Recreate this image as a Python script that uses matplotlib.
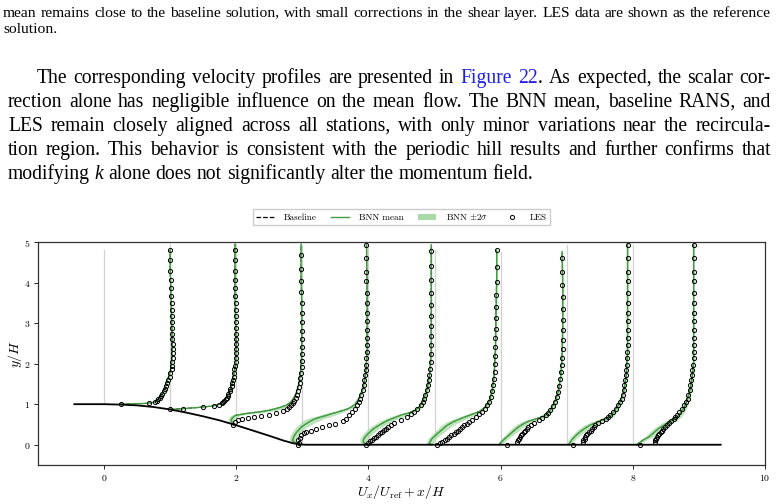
import matplotlib
matplotlib.use("Agg")
import matplotlib.pyplot as plt
from matplotlib.lines import Line2D
from matplotlib.patches import Patch
from matplotlib.transforms import IdentityTransform
from matplotlib.font_manager import FontProperties
import numpy as np

# ---------------- text content ----------------
TOP_LINES = [
    "mean remains close to the baseline solution, with small corrections in the shear layer. LES data are shown as the reference",
    "solution.",
]
PARA_LINES = [
    "The corresponding velocity profiles are presented in Figure 22. As expected, the scalar cor-",
    "rection alone has negligible influence on the mean flow. The BNN mean, baseline RANS, and",
    "LES remain closely aligned across all stations, with only minor variations near the recircula-",
    "tion region. This behavior is consistent with the periodic hill results and further confirms that",
    "modifying k alone does not significantly alter the momentum field.",
]

# ---------------- chart data ----------------
STATIONS = [0, 1, 2, 3, 4, 5, 6, 7, 8]
LEGEND_LABELS = ["Baseline", "BNN mean", r"BNN $\pm 2\sigma$", "LES"]
X_TICKS = [0, 2, 4, 6, 8, 10]
Y_TICKS = [0, 1, 2, 3, 4, 5]

WALL_X = [-0.45, 0.0, 0.25, 0.5, 0.75, 1.0, 1.25, 1.5, 1.75, 2.0, 2.25, 2.5, 2.7, 2.85, 2.95, 3.05, 9.33]
WALL_Y = [1.0, 1.0, 0.99, 0.97, 0.93, 0.87, 0.79, 0.70, 0.60, 0.48, 0.35, 0.22, 0.11, 0.04, 0.01, 0.0, 0.0]

# LES profiles (y, U)
LES_Y_0 = [1.00, 1.02, 1.05, 1.08, 1.12, 1.16, 1.21, 1.26, 1.32, 1.38, 1.45, 1.52, 1.60, 1.68, 1.77, 1.86, 1.95, 2.05, 2.15, 2.26, 2.37, 2.49, 2.61, 2.74, 2.88, 3.02, 3.17, 3.33, 3.50, 3.68, 3.87, 4.07, 4.28, 4.55, 4.81]
LES_U_0 = [0.26, 0.68, 0.77, 0.80, 0.82, 0.84, 0.86, 0.88, 0.90, 0.92, 0.94, 0.95, 0.97, 0.99, 1.00, 1.02, 1.03, 1.03, 1.04, 1.04, 1.04, 1.04, 1.03, 1.03, 1.03, 1.03, 1.02, 1.02, 1.02, 1.01, 1.01, 1.01, 1.00, 1.00, 1.00]
LES_Y_1 = [0.87, 0.89, 0.93, 0.96, 0.99, 1.02, 1.05, 1.08, 1.12, 1.16, 1.21, 1.26, 1.32, 1.38, 1.45, 1.52, 1.60, 1.68, 1.77, 1.86, 1.95, 2.05, 2.15, 2.26, 2.37, 2.49, 2.61, 2.74, 2.88, 3.02, 3.17, 3.33, 3.50, 3.68, 3.87, 4.07, 4.28, 4.55, 4.81]
LES_U_1 = [0.00, 0.19, 0.50, 0.67, 0.74, 0.78, 0.80, 0.82, 0.84, 0.86, 0.87, 0.88, 0.90, 0.91, 0.93, 0.94, 0.95, 0.96, 0.97, 0.97, 0.98, 0.99, 0.99, 1.00, 1.00, 1.00, 1.00, 0.99, 0.99, 0.99, 0.99, 0.99, 0.99, 0.98, 0.98, 0.98, 0.98, 0.98, 0.98]
LES_Y_2 = [0.48, 0.56, 0.60, 0.63, 0.65, 0.68, 0.71, 0.74, 0.78, 0.82, 0.87, 0.92, 0.97, 1.02, 1.08, 1.15, 1.23, 1.32, 1.42, 1.53, 1.65, 1.78, 1.92, 2.07, 2.23, 2.41, 2.60, 2.80, 3.02, 3.25, 3.50, 3.76, 4.04, 4.33, 4.68]
LES_U_2 = [-0.05, -0.02, 0.02, 0.09, 0.17, 0.27, 0.38, 0.49, 0.60, 0.70, 0.76, 0.80, 0.83, 0.86, 0.88, 0.90, 0.92, 0.94, 0.95, 0.96, 0.97, 0.98, 0.99, 0.99, 0.99, 0.99, 0.99, 0.99, 0.99, 0.99, 0.99, 0.98, 0.98, 0.98, 0.98]
LES_Y_3 = [0.00, 0.05, 0.11, 0.17, 0.23, 0.28, 0.31, 0.35, 0.40, 0.44, 0.48, 0.52, 0.58, 0.64, 0.73, 0.81, 0.89, 0.97, 1.06, 1.14, 1.22, 1.35, 1.47, 1.59, 1.72, 1.84, 1.96, 2.13, 2.29, 2.46, 2.62, 2.83, 3.04, 3.24, 3.49, 3.74, 4.03, 4.27, 4.60, 4.92]
LES_U_3 = [-0.06, -0.05, -0.06, -0.04, -0.02, 0.02, 0.05, 0.13, 0.20, 0.30, 0.40, 0.50, 0.61, 0.66, 0.71, 0.75, 0.79, 0.82, 0.85, 0.87, 0.89, 0.92, 0.93, 0.94, 0.95, 0.96, 0.97, 0.97, 0.98, 0.98, 0.98, 0.98, 0.98, 0.98, 0.98, 0.98, 0.97, 0.97, 0.97, 0.97]
LES_Y_4 = [0.00, 0.04, 0.08, 0.12, 0.16, 0.20, 0.24, 0.28, 0.32, 0.36, 0.40, 0.44, 0.49, 0.54, 0.60, 0.68, 0.75, 0.81, 0.89, 0.97, 1.06, 1.14, 1.22, 1.35, 1.47, 1.59, 1.72, 1.88, 2.05, 2.25, 2.46, 2.68, 2.92, 3.18, 3.45, 3.75, 4.07, 4.40, 4.77]
LES_U_4 = [-0.04, -0.01, 0.02, 0.05, 0.08, 0.11, 0.14, 0.17, 0.20, 0.23, 0.26, 0.30, 0.34, 0.39, 0.49, 0.59, 0.65, 0.69, 0.74, 0.79, 0.82, 0.84, 0.86, 0.88, 0.90, 0.91, 0.92, 0.93, 0.94, 0.95, 0.95, 0.95, 0.95, 0.95, 0.95, 0.95, 0.95, 0.95, 0.95]
LES_Y_5 = [0.00, 0.04, 0.07, 0.11, 0.15, 0.19, 0.23, 0.27, 0.31, 0.35, 0.40, 0.44, 0.48, 0.52, 0.56, 0.62, 0.68, 0.75, 0.81, 0.89, 0.97, 1.06, 1.18, 1.32, 1.47, 1.63, 1.80, 1.98, 2.18, 2.40, 2.62, 2.86, 3.12, 3.40, 3.70, 4.02, 4.38, 4.81]
LES_U_5 = [0.04, 0.09, 0.12, 0.16, 0.19, 0.22, 0.25, 0.29, 0.32, 0.35, 0.39, 0.42, 0.45, 0.49, 0.52, 0.57, 0.62, 0.67, 0.72, 0.76, 0.80, 0.82, 0.85, 0.87, 0.89, 0.90, 0.91, 0.91, 0.92, 0.92, 0.92, 0.93, 0.93, 0.93, 0.93, 0.94, 0.94, 0.94]
LES_Y_6 = [0.00, 0.07, 0.11, 0.15, 0.19, 0.23, 0.27, 0.31, 0.35, 0.40, 0.44, 0.49, 0.54, 0.60, 0.66, 0.73, 0.79, 0.85, 0.95, 1.06, 1.18, 1.30, 1.46, 1.63, 1.80, 1.96, 2.15, 2.36, 2.58, 2.82, 3.08, 3.35, 3.64, 3.95, 4.27, 4.60]
LES_U_6 = [0.10, 0.25, 0.27, 0.28, 0.30, 0.31, 0.33, 0.35, 0.37, 0.40, 0.42, 0.46, 0.50, 0.58, 0.63, 0.68, 0.72, 0.75, 0.79, 0.82, 0.85, 0.87, 0.89, 0.90, 0.92, 0.93, 0.93, 0.94, 0.94, 0.94, 0.94, 0.94, 0.94, 0.93, 0.93, 0.93]
LES_Y_7 = [0.00, 0.07, 0.11, 0.15, 0.19, 0.23, 0.27, 0.31, 0.35, 0.40, 0.44, 0.48, 0.53, 0.58, 0.64, 0.68, 0.73, 0.81, 0.89, 0.97, 1.06, 1.14, 1.22, 1.35, 1.47, 1.59, 1.72, 1.84, 1.96, 2.13, 2.29, 2.46, 2.62, 2.83, 3.04, 3.24, 3.49, 3.74, 4.03, 4.27, 4.60, 4.92]
LES_U_7 = [0.10, 0.24, 0.25, 0.27, 0.28, 0.29, 0.31, 0.33, 0.36, 0.38, 0.41, 0.43, 0.48, 0.53, 0.59, 0.63, 0.66, 0.70, 0.74, 0.78, 0.81, 0.83, 0.85, 0.86, 0.87, 0.88, 0.89, 0.90, 0.91, 0.91, 0.91, 0.92, 0.92, 0.92, 0.92, 0.92, 0.92, 0.92, 0.92, 0.92, 0.92, 0.92]
LES_Y_8 = [0.00, 0.07, 0.11, 0.15, 0.19, 0.23, 0.27, 0.31, 0.35, 0.40, 0.44, 0.48, 0.53, 0.58, 0.64, 0.68, 0.73, 0.81, 0.89, 0.97, 1.06, 1.14, 1.22, 1.35, 1.47, 1.59, 1.72, 1.84, 1.96, 2.13, 2.29, 2.46, 2.62, 2.83, 3.04, 3.24, 3.49, 3.74, 4.03, 4.27, 4.60, 4.92]
LES_U_8 = [0.11, 0.33, 0.34, 0.35, 0.36, 0.38, 0.40, 0.42, 0.44, 0.46, 0.48, 0.51, 0.54, 0.58, 0.62, 0.64, 0.67, 0.70, 0.74, 0.78, 0.81, 0.83, 0.84, 0.86, 0.87, 0.88, 0.89, 0.90, 0.91, 0.92, 0.92, 0.92, 0.92, 0.92, 0.92, 0.92, 0.92, 0.92, 0.92, 0.92, 0.92, 0.92]

# BNN mean profiles (y, U) and 2-sigma half width
BNN_Y_0 = [1.00, 1.02, 1.05, 1.10, 1.20, 1.30, 1.45, 1.60, 1.80, 2.00, 2.30, 2.70, 3.20, 3.80, 4.30, 4.80]
BNN_U_0 = [0.25, 0.66, 0.76, 0.81, 0.86, 0.89, 0.93, 0.96, 1.00, 1.02, 1.03, 1.03, 1.02, 1.01, 1.00, 1.00]
BNN_S_0 = [0.01, 0.02, 0.02, 0.02, 0.015, 0.01, 0.01, 0.01, 0.01, 0.01, 0.01, 0.01, 0.01, 0.01, 0.01, 0.01]
BNN_Y_1 = [0.87, 0.89, 0.93, 0.96, 1.00, 1.06, 1.20, 1.40, 1.70, 2.00, 2.40, 3.00, 3.60, 4.20, 4.95]
BNN_U_1 = [0.00, 0.20, 0.50, 0.66, 0.74, 0.80, 0.87, 0.92, 0.96, 0.99, 1.00, 0.99, 0.98, 0.98, 0.98]
BNN_S_1 = [0.01, 0.02, 0.02, 0.02, 0.02, 0.02, 0.015, 0.01, 0.01, 0.01, 0.01, 0.01, 0.01, 0.01, 0.01]
BNN_Y_2 = [0.48, 0.60, 0.66, 0.72, 0.75, 0.77, 0.81, 0.85, 0.89, 0.93, 0.97, 1.02, 1.10, 1.25, 1.45, 1.75, 2.20, 2.80, 3.50, 4.20, 4.95]
BNN_U_2 = [-0.04, -0.08, -0.06, -0.02, 0.08, 0.15, 0.35, 0.50, 0.60, 0.68, 0.75, 0.80, 0.85, 0.90, 0.94, 0.97, 0.99, 0.99, 0.99, 0.98, 0.98]
BNN_S_2 = [0.03, 0.05, 0.06, 0.07, 0.09, 0.11, 0.13, 0.12, 0.10, 0.08, 0.06, 0.04, 0.03, 0.02, 0.01, 0.01, 0.01, 0.01, 0.01, 0.01, 0.01]
BNN_Y_3 = [0.00, 0.10, 0.20, 0.30, 0.43, 0.52, 0.58, 0.63, 0.68, 0.72, 0.76, 0.80, 0.84, 0.88, 0.94, 1.00, 1.15, 1.40, 1.80, 2.30, 3.00, 3.80, 4.93]
BNN_U_3 = [-0.05, -0.15, -0.13, -0.09, -0.02, 0.06, 0.12, 0.18, 0.27, 0.36, 0.43, 0.52, 0.60, 0.68, 0.75, 0.80, 0.86, 0.92, 0.96, 0.98, 0.98, 0.98, 0.97]
BNN_S_3 = [0.03, 0.05, 0.06, 0.07, 0.08, 0.10, 0.12, 0.13, 0.13, 0.12, 0.11, 0.09, 0.07, 0.05, 0.04, 0.03, 0.02, 0.015, 0.01, 0.01, 0.01, 0.01, 0.01]
BNN_Y_4 = [0.00, 0.08, 0.15, 0.25, 0.40, 0.50, 0.60, 0.67, 0.73, 0.79, 0.85, 0.95, 1.10, 1.40, 1.80, 2.30, 3.00, 4.00, 4.93]
BNN_U_4 = [-0.05, -0.08, -0.07, -0.02, 0.08, 0.18, 0.29, 0.40, 0.49, 0.62, 0.71, 0.78, 0.83, 0.89, 0.93, 0.95, 0.95, 0.95, 0.95]
BNN_S_4 = [0.03, 0.05, 0.06, 0.07, 0.08, 0.09, 0.10, 0.10, 0.09, 0.07, 0.05, 0.04, 0.03, 0.02, 0.01, 0.01, 0.01, 0.01, 0.01]
BNN_Y_5 = [0.00, 0.03, 0.15, 0.27, 0.38, 0.48, 0.57, 0.64, 0.71, 0.77, 0.83, 0.92, 1.05, 1.30, 1.70, 2.30, 3.20, 4.10, 4.80]
BNN_U_5 = [-0.05, -0.08, -0.04, 0.04, 0.12, 0.19, 0.29, 0.39, 0.50, 0.60, 0.69, 0.76, 0.82, 0.87, 0.90, 0.92, 0.93, 0.94, 0.94]
BNN_S_5 = [0.03, 0.05, 0.06, 0.07, 0.08, 0.09, 0.10, 0.10, 0.09, 0.07, 0.05, 0.04, 0.03, 0.02, 0.01, 0.01, 0.01, 0.01, 0.01]
BNN_Y_6 = [0.00, 0.05, 0.13, 0.23, 0.33, 0.44, 0.51, 0.58, 0.66, 0.73, 0.85, 1.06, 1.30, 1.70, 2.20, 3.00, 3.80, 4.76]
BNN_U_6 = [-0.02, 0.00, 0.05, 0.12, 0.19, 0.27, 0.34, 0.42, 0.58, 0.68, 0.75, 0.82, 0.87, 0.91, 0.93, 0.94, 0.94, 0.93]
BNN_S_6 = [0.03, 0.04, 0.05, 0.06, 0.07, 0.08, 0.09, 0.09, 0.07, 0.05, 0.04, 0.03, 0.02, 0.01, 0.01, 0.01, 0.01, 0.01]
BNN_Y_7 = [0.00, 0.03, 0.13, 0.23, 0.33, 0.41, 0.48, 0.54, 0.60, 0.64, 0.70, 0.85, 1.06, 1.30, 1.70, 2.30, 3.20, 4.93]
BNN_U_7 = [0.03, 0.04, 0.08, 0.14, 0.21, 0.28, 0.35, 0.43, 0.52, 0.58, 0.66, 0.73, 0.81, 0.86, 0.90, 0.92, 0.92, 0.92]
BNN_S_7 = [0.03, 0.04, 0.05, 0.06, 0.07, 0.08, 0.09, 0.09, 0.08, 0.07, 0.05, 0.04, 0.03, 0.02, 0.01, 0.01, 0.01, 0.01]
BNN_Y_8 = [0.00, 0.05, 0.12, 0.19, 0.30, 0.40, 0.48, 0.56, 0.62, 0.68, 0.77, 0.93, 1.14, 1.39, 1.72, 2.05, 3.00, 4.00, 4.93]
BNN_U_8 = [0.06, 0.10, 0.16, 0.24, 0.32, 0.39, 0.47, 0.54, 0.61, 0.67, 0.72, 0.78, 0.83, 0.87, 0.90, 0.92, 0.92, 0.92, 0.92]
BNN_S_8 = [0.03, 0.04, 0.05, 0.06, 0.07, 0.08, 0.08, 0.08, 0.07, 0.06, 0.05, 0.04, 0.03, 0.02, 0.01, 0.01, 0.01, 0.01, 0.01]

# Baseline RANS profiles coincide with the BNN mean at the plotted resolution
BASE_U_0, BASE_U_1, BASE_U_2 = BNN_U_0, BNN_U_1, BNN_U_2
BASE_U_3, BASE_U_4, BASE_U_5 = BNN_U_3, BNN_U_4, BNN_U_5
BASE_U_6, BASE_U_7, BASE_U_8 = BNN_U_6, BNN_U_7, BNN_U_8

LES_Y = [LES_Y_0, LES_Y_1, LES_Y_2, LES_Y_3, LES_Y_4, LES_Y_5, LES_Y_6, LES_Y_7, LES_Y_8]
LES_U = [LES_U_0, LES_U_1, LES_U_2, LES_U_3, LES_U_4, LES_U_5, LES_U_6, LES_U_7, LES_U_8]
BNN_Y = [BNN_Y_0, BNN_Y_1, BNN_Y_2, BNN_Y_3, BNN_Y_4, BNN_Y_5, BNN_Y_6, BNN_Y_7, BNN_Y_8]
BNN_U = [BNN_U_0, BNN_U_1, BNN_U_2, BNN_U_3, BNN_U_4, BNN_U_5, BNN_U_6, BNN_U_7, BNN_U_8]
BNN_S = [BNN_S_0, BNN_S_1, BNN_S_2, BNN_S_3, BNN_S_4, BNN_S_5, BNN_S_6, BNN_S_7, BNN_S_8]
BASE_U = [BASE_U_0, BASE_U_1, BASE_U_2, BASE_U_3, BASE_U_4, BASE_U_5, BASE_U_6, BASE_U_7, BASE_U_8]

# ---------------- style ----------------
plt.rcParams.update({
    "font.family": "serif",
    "font.serif": ["cmr10"],
    "mathtext.fontset": "cm",
    "axes.formatter.use_mathtext": True,
    "axes.unicode_minus": False,
})
W, H = 778, 504
GREEN = "#3f9c3f"
BAND = "#a9d9a6"
GRAY = "#d2d2d2"

fig = plt.figure(figsize=(W / 100, H / 100), dpi=100)
ax = fig.add_axes([38 / W, (H - 465) / H, (765 - 38) / W, (465 - 242) / H])

for i, s in enumerate(STATIONS):
    by = np.array(BNN_Y[i]); bu = np.array(BNN_U[i]); bs = np.array(BNN_S[i])
    ax.plot([s, s], [by[0], by[-1]], color=GRAY, lw=0.9, zorder=1)
    ax.plot(s + np.array(BASE_U[i]), by, color="black", ls="--", lw=0.8, zorder=2)
    ax.fill_betweenx(by, s + bu - bs, s + bu + bs, color=BAND, alpha=0.75, lw=0, zorder=3)
    ax.plot(s + bu, by, color=GREEN, lw=1.0, zorder=4)
    ax.plot(s + np.array(LES_U[i]), LES_Y[i], "o", ms=3.0, mfc="none", mec="black",
            mew=0.7, zorder=6)
ax.plot(WALL_X, WALL_Y, color="black", lw=1.3, zorder=5)

ax.set_xlim(-1, 10)
ax.set_ylim(-0.5, 5)
ax.set_xticks(X_TICKS)
ax.set_yticks(Y_TICKS)
ax.tick_params(labelsize=7, length=3, width=0.6, pad=2.5)
for sp in ax.spines.values():
    sp.set_linewidth(0.9)
    sp.set_color("#333333")
ax.set_xlabel(r"$U_x/U_{\rm ref} + x/H$", fontsize=10)
ax.set_ylabel(r"$y/H$", fontsize=10)
ax.xaxis.set_label_coords(0.5, -0.082)
ax.yaxis.set_label_coords(-0.019, 0.5)

handles = [
    Line2D([], [], color="black", ls="--", lw=0.9),
    Line2D([], [], color=GREEN, lw=1.0),
    Patch(facecolor=BAND, edgecolor="none"),
    Line2D([], [], ls="none", marker="o", ms=3.0, mfc="none", mec="black", mew=0.7),
]
ax.legend(handles, LEGEND_LABELS, loc="lower center", bbox_to_anchor=(0.5, 1.055),
          ncol=4, fontsize=6.6, handlelength=2.0, columnspacing=1.6, borderpad=0.3,
          handletextpad=1.0, framealpha=1, edgecolor="#cccccc", fancybox=False)

# ---------------- page text ----------------
renderer = fig.canvas.get_renderer()
TFONT = ["Liberation Serif", "DejaVu Serif"]
BLUE = "#1f1fe6"

try:
    from matplotlib.backends.backend_agg import get_hinting_flag
except Exception:  # pragma: no cover
    get_hinting_flag = None


def segments(word):
    if word == "Figure":
        return [(word, BLUE, "normal")]
    if word == "22.":
        return [("22", BLUE, "normal"), (".", "black", "normal")]
    if word == "k":
        return [(word, "black", "italic")]
    return [(word, "black", "normal")]


def seg_w(txt, size, style="normal"):
    t = fig.text(0, 0, txt, fontsize=size, family=TFONT, style=style,
                 transform=IdentityTransform())
    w = t.get_window_extent(renderer).width
    t.remove()
    return w


def space_w(size):
    return seg_w("a a", size) - seg_w("aa", size)


def word_w(word, size):
    return sum(seg_w(t, size, st) for t, c, st in segments(word))


def anchor_y(txt, size, style, row):
    """Display y for a baseline anchor so that every word lands on pixel row `row`."""
    try:
        fp = FontProperties(family=TFONT, style=style, size=size)
        font = renderer._prepare_font(fp)
        font.set_text(txt, 0, flags=get_hinting_flag())
        desc = font.get_descent()
        w26, h26 = font.get_width_height()
        ymax = h26 - desc
        n = row + (h26 // 64) - (ymax // 64)
        return H - (n - desc / 64.0)
    except Exception:
        return H - row


def fit_size(lines, x0s, x1, slack):
    best = 1e9
    sp = space_w(10)
    for line, x0 in zip(lines, x0s):
        words = line.split()
        nat = sum(word_w(w, 10) for w in words) + (len(words) - 1) * sp
        best = min(best, 10 * (x1 - x0) / nat)
    return best * slack


def draw_line(line, x0, x1, row, size, justify):
    words = line.split()
    ws = [word_w(w, size) for w in words]
    if justify and len(words) > 1:
        gap = (x1 - x0 - sum(ws)) / (len(words) - 1)
    else:
        gap = space_w(size)
    x = x0
    for w, wd in zip(words, ws):
        xx = x
        for t, c, st in segments(w):
            fig.text(xx, anchor_y(t, size, st, row), t, fontsize=size, family=TFONT,
                     style=st, color=c, transform=IdentityTransform(),
                     va="baseline", ha="left")
            xx += seg_w(t, size, st)
        x += wd + gap


top_size = fit_size(TOP_LINES[:1], [3], 771, 0.985)
draw_line(TOP_LINES[0], 3, 771, 17, top_size, True)
draw_line(TOP_LINES[1], 3, 771, 33, top_size, False)

para_x0 = [37, 8, 8, 8]
para_size = fit_size(PARA_LINES[:4], para_x0, 771, 0.975)
for k, line in enumerate(PARA_LINES):
    x0 = 37 if k == 0 else 8
    draw_line(line, x0, 771, 83 + 24 * k, para_size, k < 4)

fig.savefig("out.png", dpi=100)
